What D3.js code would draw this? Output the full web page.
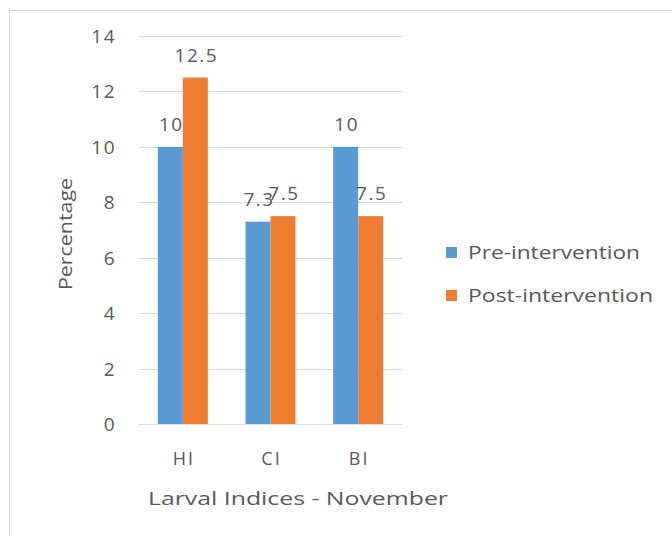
<!DOCTYPE html>
<html>
<head>
<meta charset="utf-8">
<script src="https://cdn.jsdelivr.net/npm/d3@7"></script>
<style>
  body { margin: 0; background: #fff; }
  text { font-family: "Open Sans", sans-serif; fill: #595959; }
</style>
</head>
<body>
<svg class="graph"></svg>
<script>
let categories = ["HI", "CI", "BI"]
let seriesNames = ["Pre-intervention", "Post-intervention"]
let preValues = [10, 7.3, 10]
let postValues = [12.5, 7.5, 7.5]
let yTicks = [0, 2, 4, 6, 8, 10, 12, 14]

let colors = ["#5B9BD5", "#ED7D31"]

let W = 672, H = 536
let plot = { left: 139, right: 402, top: 36, bottom: 424 }

let svg = d3.select(".graph").attr("width", W).attr("height", H)

// chart border
svg.append("rect")
    .attr("x", 9.5).attr("y", 10.5)
    .attr("width", W).attr("height", H)
    .attr("fill", "none").attr("stroke", "#d9d9d9")

let x = d3.scaleBand()
    .domain(categories)
    .range([plot.left, plot.right])
    .paddingInner(0.43)
    .paddingOuter(0.215)

let x1 = d3.scaleBand()
    .domain(seriesNames)
    .range([0, x.bandwidth()])

let y = d3.scaleLinear()
    .domain([0, 14])
    .range([plot.bottom, plot.top])

// gridlines
svg.append("g")
    .selectAll("line")
    .data(yTicks)
    .enter().append("line")
    .attr("x1", plot.left).attr("x2", plot.right)
    .attr("y1", d => Math.round(y(d)) + 0.5)
    .attr("y2", d => Math.round(y(d)) + 0.5)
    .attr("stroke", "#d9d9d9")

// y tick labels
svg.append("g")
    .selectAll("text")
    .data(yTicks)
    .enter().append("text")
    .attr("x", 116)
    .attr("y", d => y(d) + 7)
    .attr("text-anchor", "end")
    .style("font-size", "19px")
    .style("letter-spacing", "1.5px")
    .text(d => d)

let data = categories.map((c, i) => ({ cat: c, vals: [preValues[i], postValues[i]] }))

let group = svg.selectAll(".grp")
    .data(data)
    .enter().append("g")
    .attr("class", "grp")
    .attr("transform", d => "translate(" + x(d.cat) + ",0)")

group.selectAll("rect")
    .data(d => d.vals.map((v, i) => ({ v: v, s: seriesNames[i], i: i })))
    .enter().append("rect")
    .attr("x", d => x1(d.s))
    .attr("width", x1.bandwidth())
    .attr("y", d => y(d.v))
    .attr("height", d => y(0) - y(d.v))
    .attr("fill", d => colors[d.i])

group.selectAll(".bar-text")
    .data(d => d.vals.map((v, i) => ({ v: v, s: seriesNames[i] })))
    .enter().append("text")
    .attr("class", "bar-text")
    .attr("x", d => x1(d.s) + x1.bandwidth() / 2 + 1)
    .attr("y", d => y(d.v) - 16)
    .attr("text-anchor", "middle")
    .style("font-size", "19px")
    .style("letter-spacing", "1.5px")
    .text(d => d.v)

// category labels
svg.append("g")
    .selectAll("text")
    .data(categories)
    .enter().append("text")
    .attr("x", d => x(d) + x.bandwidth() / 2 + 1)
    .attr("y", 465)
    .attr("text-anchor", "middle")
    .style("font-size", "18px")
    .style("letter-spacing", "2px")
    .text(d => d)

// axis titles
svg.append("text")
    .attr("x", 148).attr("y", 505)
    .attr("textLength", 300)
    .attr("lengthAdjust", "spacingAndGlyphs")
    .style("font-size", "18.5px")
    .text("Larval Indices - November")

svg.append("text")
    .attr("transform", "translate(72,290) rotate(-90)")
    .attr("textLength", 112)
    .attr("lengthAdjust", "spacingAndGlyphs")
    .style("font-size", "18px")
    .text("Percentage")

// legend
let legend = svg.selectAll(".legend")
    .data(seriesNames)
    .enter().append("g")
    .attr("class", "legend")
    .attr("transform", (d, i) => "translate(446," + (247 + i * 43) + ")")

legend.append("rect")
    .attr("width", 11).attr("height", 11)
    .attr("fill", (d, i) => colors[i])

legend.append("text")
    .attr("x", 22).attr("y", 12)
    .attr("textLength", (d, i) => i === 0 ? 172 : 185)
    .attr("lengthAdjust", "spacingAndGlyphs")
    .style("font-size", "18px")
    .text(d => d)
</script>
</body>
</html>
